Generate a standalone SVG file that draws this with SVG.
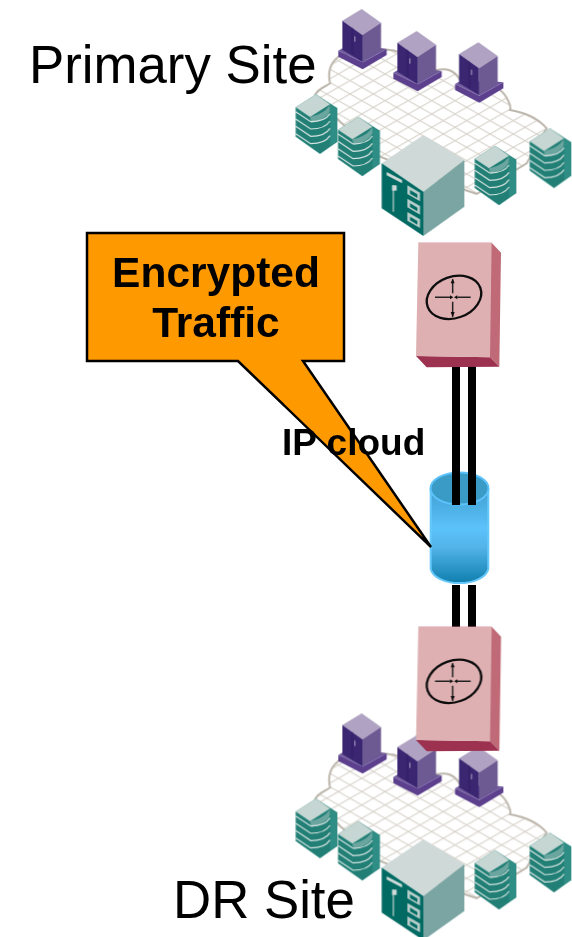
<svg xmlns="http://www.w3.org/2000/svg" xmlns:xlink="http://www.w3.org/1999/xlink" width="572" height="937" viewBox="0 0 572 937">
<style>
text{font-family:"Liberation Sans",Arial,sans-serif;fill:#000}
.lbl{font-size:52.8px}
.bold{font-weight:bold}
.link{stroke:#000;stroke-width:8;fill:none}
.band{fill:none;stroke:#d5e3e0;stroke-width:3.5}
.soft{filter:url(#soft)}
</style>
<defs>
<filter id="soft" x="-5%" y="-5%" width="110%" height="110%"><feGaussianBlur stdDeviation=".45"/></filter>
<pattern id="grid" width="20" height="20" patternUnits="userSpaceOnUse" patternTransform="matrix(1.75 1 -1.75 1 0 0)">
<rect width="20" height="20" fill="#fff"/>
<path d="M0 0H20M0 0V20" stroke="#d6d1c9" stroke-width="3.6" fill="none"/>
</pattern>
<linearGradient id="cyl" x1="0" y1="0" x2="0" y2="1">
<stop offset="0" stop-color="#3f9fd0"/><stop offset=".42" stop-color="#5cc2fb"/><stop offset=".62" stop-color="#52b4e8"/><stop offset="1" stop-color="#0f7fae"/>
</linearGradient>
<g id="tower">
<path d="M-70 125V143L3 181 75 138V120L3 160Z" fill="#5b3f8e"/>
<path d="M-70 125L-58 118 58 118 75 120 3 160Z" fill="#6f5a9c"/>
<path d="M-58 35L0 0 58 41 2 78Z" fill="#b0a2c2"/>
<path d="M-58 35L2 78V158L-58 122Z" fill="#3a2672"/>
<path d="M2 78L58 41V122L2 158Z" fill="#6d5a92"/>
<path d="M-28 56V138" stroke="#2c1b5e" stroke-width="2"/>
<rect x="-22" y="82" width="3" height="16" fill="#b0a2c2"/>
</g>
<g id="disk">
<path d="M0 0L64 42V142L12 179-61 127V39Z" fill="#207f76"/>
<path d="M0 0L-61 39-18 68 42 30Z" fill="#c5d6d3"/>
<path d="M-18 68C10 62 32 50 42 30V50C34 68 10 80-14 86Z" fill="#c5d6d3" opacity=".45"/>
<path d="M42 30L64 42V142L42 155Z" fill="#2f8d84"/>
<path d="M-61 52L-16 82C10 82 32 74 42 58" class="band"/>
<path d="M-61 74L-16 104C10 104 32 96 42 80" class="band"/>
<path d="M-61 96L-16 126C10 126 32 118 42 102" class="band"/>
<path d="M-61 118L-16 148C10 148 32 140 42 124" class="band"/>
</g>
<g id="router">
<path d="M55 38L275 38 303 68 298 410 270 382Z" fill="#bf6a76"/>
<path d="M48 378L270 382 298 410 80 412Z" fill="#9c3050"/>
<path d="M55 38H275L270 382 48 378Z" fill="#deb0b2"/>
<ellipse cx="162" cy="202" rx="84" ry="62" transform="rotate(-20 162 202)" fill="none" stroke="#111" stroke-width="7"/>
<path d="M105 202H150M172 202H212M158 148V190M158 215V260" stroke="#222" stroke-width="4.5" fill="none"/>
<path d="M150 196L160 202 150 208ZM172 196L162 202 172 208ZM152 160L158 146 164 160ZM152 246L158 262 164 246Z" fill="#111"/>
</g>
<g id="site">
<path d="M105 285C118 262 135 262 150 250 142 215 150 190 175 170 225 150 300 145 330 150 370 150 420 205 470 210 495 205 520 205 540 240 590 240 650 255 660 270 680 285 695 320 690 330 720 335 770 350 800 385L740 490 590 582 555 570 300 470 180 365Z" fill="url(#grid)" stroke="#bdb7ad" stroke-width="6"/>
<use xlink:href="#tower" href="#tower" x="245" y="27"/>
<use xlink:href="#tower" href="#tower" x="410" y="93"/>
<use xlink:href="#tower" href="#tower" x="595" y="127"/>
<use xlink:href="#disk" href="#disk" x="108" y="283"/>
<use xlink:href="#disk" href="#disk" x="235" y="350"/>
<use xlink:href="#disk" href="#disk" x="645" y="437"/>
<use xlink:href="#disk" href="#disk" x="810" y="385"/>
<path d="M305 490L430 405 553 480 430 575Z" fill="#cfd9d8"/>
<path d="M430 575L553 480V620L430 708Z" fill="#7aa5a2"/>
<path d="M305 490L430 575V708L305 625Z" fill="#006b64"/>
<path d="M320 516L366 540V550L320 526Z" fill="#cfd9d8"/>
<path d="M340 555V635" stroke="#8fb5b1" stroke-width="5"/>
<rect x="336" y="556" width="14" height="16" fill="#cfd9d8"/>
<path d="M382 556L420 578V604L382 582ZM382 596L420 618V644L382 622ZM382 636L420 658V684L382 662Z" fill="#b7cdca"/>
<path d="M390 570L412 583V594L390 581ZM390 610L412 623V634L390 621ZM390 650L412 663V674L390 661Z" fill="#006b64"/>
</g>
</defs>
<g id="primary-site" class="soft" transform="translate(280 0) scale(.33333)"><use xlink:href="#site" href="#site"/></g>
<g id="dr-site" class="soft" transform="translate(280 704.3) scale(.33333)"><use xlink:href="#site" href="#site"/></g>
<g id="ip-cloud">
<path d="M430.7 488.5V569A29 16 0 0 0 488.3 569V488.5A29 16 0 0 1 430.7 488.5Z" fill="url(#cyl)" stroke="#66c8fa" stroke-width="2"/>
<ellipse cx="459.5" cy="488.5" rx="29" ry="16" fill="#3a9cc6" stroke="#5cc2fb" stroke-width="2"/>
</g>
<g id="connectors">
<path class="link" d="M456 366V505M472 366V505M456 585V628M472 585V628"/>
</g>
<g id="router-top" class="soft" transform="translate(400 230) scale(.33333)"><use xlink:href="#router" href="#router"/></g>
<g id="router-bottom" class="soft" transform="translate(400 614) scale(.33333)"><use xlink:href="#router" href="#router"/></g>
<g id="callout">
<path d="M87 233H344V361H303L431 547 238 361H87Z" fill="#ff9900" stroke="#000" stroke-width="2.5"/>
<text class="bold" x="216" y="287" font-size="42.5" text-anchor="middle">Encrypted</text>
<text class="bold" x="216" y="337" font-size="42.5" text-anchor="middle">Traffic</text>
</g>
<text id="ip-label" class="bold" x="282" y="455" font-size="37">IP cloud</text>
<text id="primary-label" class="lbl" x="29" y="83">Primary Site</text>
<text id="dr-label" class="lbl" x="173" y="918">DR Site</text>
</svg>
